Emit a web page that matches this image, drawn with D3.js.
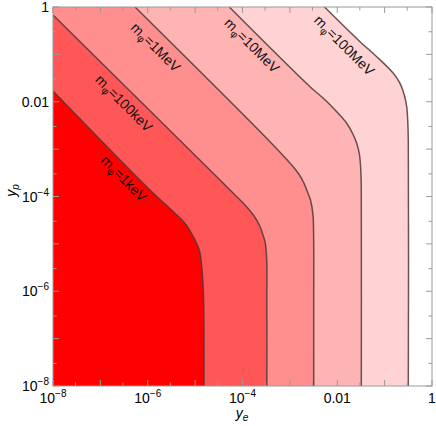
<!DOCTYPE html>
<html>
<head>
<meta charset="utf-8">
<script src="https://cdn.jsdelivr.net/npm/d3@7"></script>
<style>
html,body{margin:0;padding:0;background:#fff;}
svg{display:block;font-family:"Liberation Sans",Arial,sans-serif;}
</style>
</head>
<body>
<svg id="chart" width="436" height="426"></svg>
<script>
// ---- data (log10 of y_e, log10 of y_p) ----
const contour1keV   = [[-8,-1.773],[-5.953,-3.863],[-5.461,-4.321],[-5.214,-4.566],[-5.039,-4.848],[-4.912,-5.129],[-4.861,-5.482],[-4.827,-5.974],[-4.813,-6.818],[-4.813,-8]];
const contour100keV = [[-8,-0.169],[-4.475,-3.652],[-4.194,-3.932],[-3.947,-4.179],[-3.772,-4.390],[-3.645,-4.601],[-3.560,-4.834],[-3.518,-4.988],[-3.489,-5.340],[-3.486,-6.185],[-3.486,-8]];
const contour1MeV   = [[-6.269,0],[-3.420,-2.843],[-2.962,-3.335],[-2.823,-3.510],[-2.717,-3.688],[-2.645,-3.863],[-2.565,-4.074],[-2.512,-4.390],[-2.498,-4.918],[-2.497,-6.185],[-2.497,-8]];
const contour10MeV  = [[-4.279,0],[-2.575,-1.682],[-2.294,-1.927],[-2.011,-2.210],[-1.800,-2.455],[-1.660,-2.702],[-1.589,-2.877],[-1.530,-3.124],[-1.499,-3.546],[-1.492,-4.285],[-1.492,-8]];
const contour100MeV = [[-2.269,0],[-1.520,-0.732],[-1.167,-1.049],[-0.817,-1.399],[-0.675,-1.611],[-0.585,-1.857],[-0.534,-2.104],[-0.513,-2.385],[-0.500,-2.807],[-0.500,-8]];

const massLabels = ["1keV","100keV","1MeV","10MeV","100MeV"];
const labelAnchors = [[-6.50,-3.62],[-6.50,-2.03],[-5.83,-0.85],[-3.80,-0.81],[-1.85,-0.81]];

const xTickExp = [-8,-6,-4,-2,0];
const xTickLabels = [["10","−8"],["10","−6"],["10","−4"],["0.01",""],["1",""]];
const yTickExp = [-8,-6,-4,-2,0];
const yTickLabels = [["10","−8"],["10","−6"],["10","−4"],["0.01",""],["1",""]];
const decadeExp = [-8,-7,-6,-5,-4,-3,-2,-1,0];

// ---- drawing ----
const svg = d3.select("#chart");
const x = d3.scaleLog().domain([1e-8,1]).range([53,432]);
const y = d3.scaleLog().domain([1e-8,1]).range([386,7]);

const contours = [contour1keV,contour100keV,contour1MeV,contour10MeV,contour100MeV];
const fills = ["#ff0000","#ff5757","#ff8e8e","#ffb4b4","#ffd3d3"];

svg.append("clipPath").attr("id","clip").append("rect")
  .attr("x",x(1e-8)).attr("y",y(1)).attr("width",x(1)-x(1e-8)).attr("height",y(1e-8)-y(1));

const plot = svg.append("g").attr("clip-path","url(#clip)");
plot.append("rect").attr("x",x(1e-8)).attr("y",y(1)).attr("width",x(1)-x(1e-8)).attr("height",y(1e-8)-y(1)).attr("fill","#fff");

const line = d3.line().x(d=>x(Math.pow(10,d[0]))).y(d=>y(Math.pow(10,d[1]))).curve(d3.curveCatmullRom.alpha(0.5));

for (let i = contours.length-1; i>=0; i--) {
  const d = line(contours[i]) + `L${x(1e-8)},${y(1e-8)}L${x(1e-8)},${y(1)}Z`;
  plot.append("path").attr("d",d).attr("fill",fills[i]).attr("stroke","none");
}
contours.forEach(c=>{
  plot.append("path").attr("d",line(c)).attr("fill","none")
    .attr("stroke","rgba(80,55,55,0.85)").attr("stroke-width",1.5);
});

// contour labels
massLabels.forEach((lab,i)=>{
  const px = x(Math.pow(10,labelAnchors[i][0])), py = y(Math.pow(10,labelAnchors[i][1]));
  const t = svg.append("text").attr("transform",`translate(${px},${py}) rotate(45)`)
    .attr("text-anchor","middle").attr("dy","0.35em").attr("font-size",14).attr("fill","#111");
  t.append("tspan").text("m");
  t.append("tspan").attr("font-size",10).attr("dy",3).text("φ");
  t.append("tspan").attr("dy",-3).text("=" + lab);
});

// frame
svg.append("rect").attr("x",x(1e-8)).attr("y",y(1)).attr("width",x(1)-x(1e-8)).attr("height",y(1e-8)-y(1))
  .attr("fill","none").attr("stroke","#9a9a9a").attr("stroke-width",1);

// ticks
const tk = svg.append("g").attr("stroke","#9a9a9a").attr("stroke-width",1);
decadeExp.forEach(e=>{
  const v = Math.pow(10,e);
  const L = 6;
  tk.append("line").attr("x1",x(v)).attr("x2",x(v)).attr("y1",y(1e-8)).attr("y2",y(1e-8)-L);
  tk.append("line").attr("x1",x(v)).attr("x2",x(v)).attr("y1",y(1)).attr("y2",y(1)+L);
  tk.append("line").attr("y1",y(v)).attr("y2",y(v)).attr("x1",x(1e-8)).attr("x2",x(1e-8)+L);
  tk.append("line").attr("y1",y(v)).attr("y2",y(v)).attr("x1",x(1)).attr("x2",x(1)-L);
  if (e < 0) {
    const m = 3*v;
    tk.append("line").attr("x1",x(m)).attr("x2",x(m)).attr("y1",y(1e-8)).attr("y2",y(1e-8)-3.5);
    tk.append("line").attr("x1",x(m)).attr("x2",x(m)).attr("y1",y(1)).attr("y2",y(1)+3.5);
    tk.append("line").attr("y1",y(m)).attr("y2",y(m)).attr("x1",x(1e-8)).attr("x2",x(1e-8)+3.5);
    tk.append("line").attr("y1",y(m)).attr("y2",y(m)).attr("x1",x(1)).attr("x2",x(1)-3.5);
  }
});

// tick labels
xTickExp.forEach((e,i)=>{
  const t = svg.append("text").attr("x",x(Math.pow(10,e))).attr("y",403)
    .attr("text-anchor","middle").attr("font-size",14).attr("fill","#000");
  t.append("tspan").text(xTickLabels[i][0]);
  if (xTickLabels[i][1]) t.append("tspan").attr("font-size",10).attr("dy",-6).text(xTickLabels[i][1]);
});
yTickExp.forEach((e,i)=>{
  const t = svg.append("text").attr("x",49).attr("y",y(Math.pow(10,e))+5)
    .attr("text-anchor","end").attr("font-size",14).attr("fill","#000");
  t.append("tspan").text(yTickLabels[i][0]);
  if (yTickLabels[i][1]) t.append("tspan").attr("font-size",10).attr("dy",-6).text(yTickLabels[i][1]);
});

// axis titles
const xt = svg.append("text").attr("x",242).attr("y",418).attr("text-anchor","middle").attr("font-size",14).attr("fill","#000");
xt.append("tspan").attr("font-style","italic").text("y");
xt.append("tspan").attr("font-style","italic").attr("font-size",10).attr("dy",3).text("e");
const yt = svg.append("text").attr("transform",`translate(16,${y(1e-4)-6}) rotate(-90)`).attr("text-anchor","middle").attr("font-size",14).attr("fill","#000");
yt.append("tspan").attr("font-style","italic").text("y");
yt.append("tspan").attr("font-style","italic").attr("font-size",10).attr("dy",3).text("p");
</script>
</body>
</html>
